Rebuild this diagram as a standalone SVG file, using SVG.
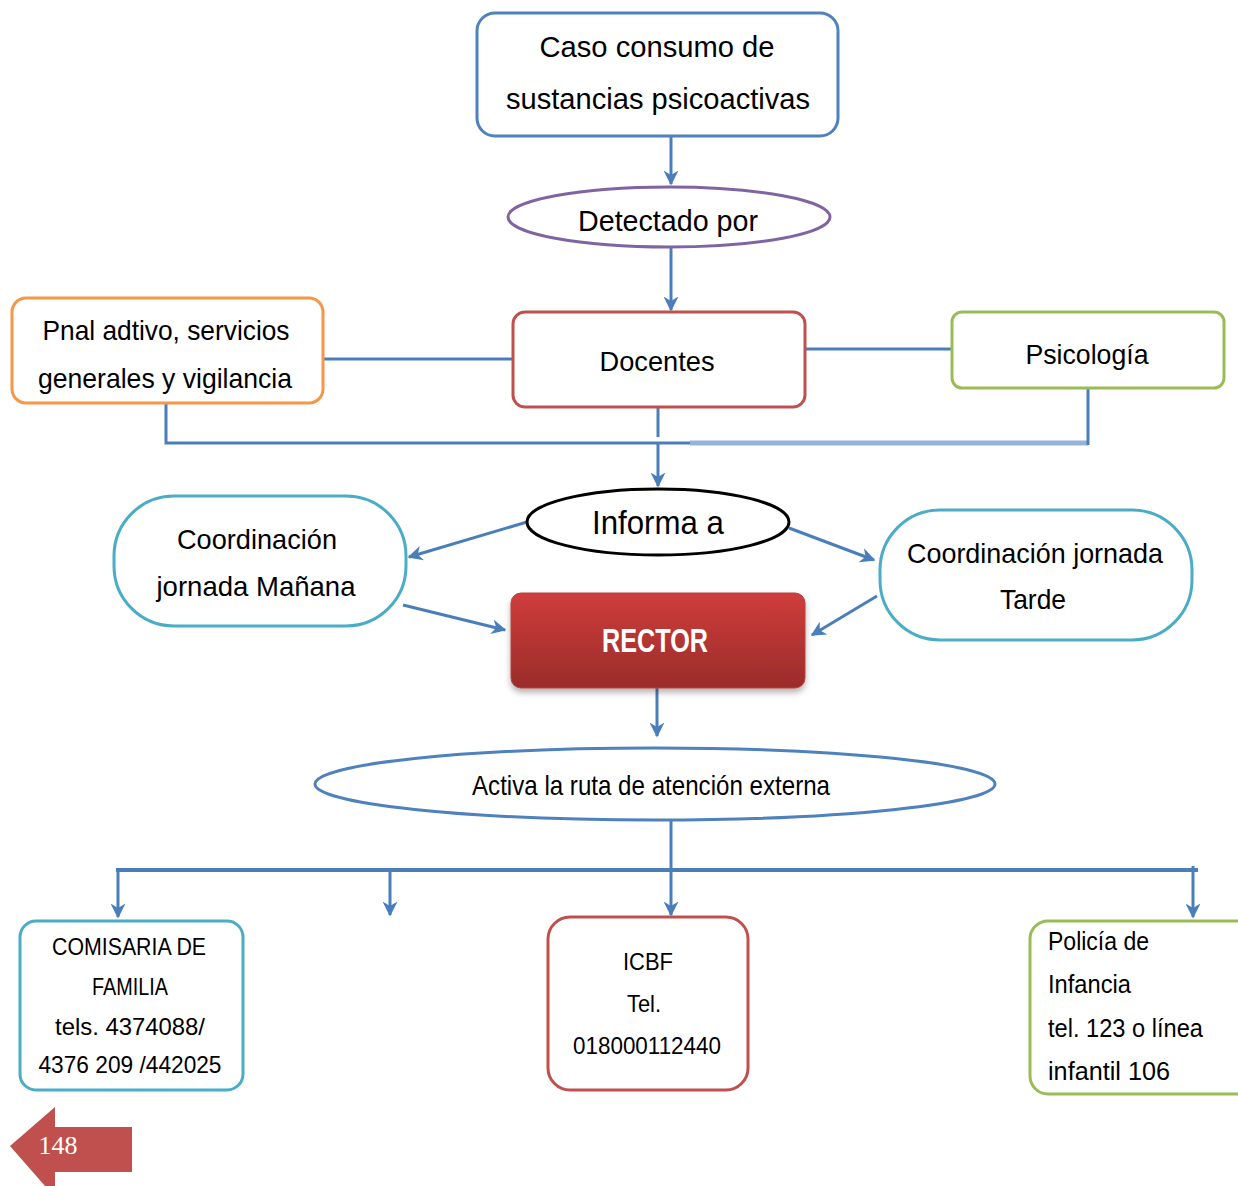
<svg xmlns="http://www.w3.org/2000/svg" width="1238" height="1186" viewBox="0 0 1238 1186">
<defs>
<style>
.t{font-family:"Liberation Sans","DejaVu Sans",sans-serif;fill:#000;text-anchor:middle}
.l{text-anchor:start}
.box{fill:#fff;stroke-width:3}
.c{fill:none;stroke:#4a7ebb;stroke-width:3}
</style>
<marker id="ar" viewBox="0 0 10 10" refX="9" refY="5" markerWidth="5" markerHeight="5" orient="auto" markerUnits="strokeWidth">
<path d="M0,0 L10,5 L0,10 L3,5 z" fill="#4a7ebb"/>
</marker>
<linearGradient id="rg" x1="0" y1="0" x2="0" y2="1">
<stop offset="0" stop-color="#cf3d3b"/>
<stop offset="1" stop-color="#9a2c2a"/>
</linearGradient>
<filter id="sh" x="-10%" y="-10%" width="120%" height="130%">
<feDropShadow dx="0" dy="4" stdDeviation="3" flood-color="#000" flood-opacity="0.3"/>
</filter>
</defs>
<rect width="1238" height="1186" fill="#fff"/>

<g id="connectors">
<line class="c" x1="671" y1="136" x2="671" y2="184" marker-end="url(#ar)"/>
<line class="c" x1="671" y1="247" x2="671" y2="310" marker-end="url(#ar)"/>
<line class="c" x1="323" y1="359" x2="513" y2="359"/>
<line class="c" x1="805" y1="349" x2="952" y2="349"/>
<polyline class="c" points="166,403 166,443 690,443"/>
<line x1="690" y1="443" x2="1088" y2="443" stroke="#95b3d7" stroke-width="5"/>
<line class="c" x1="1088" y1="388" x2="1088" y2="445"/>
<line class="c" x1="658" y1="407" x2="658" y2="437"/>
<line class="c" x1="658" y1="443" x2="658" y2="486" marker-end="url(#ar)"/>
<line class="c" x1="527" y1="522" x2="409" y2="557" marker-end="url(#ar)"/>
<line class="c" x1="789" y1="528" x2="874" y2="560" marker-end="url(#ar)"/>
<line class="c" x1="403" y1="605" x2="505" y2="630" marker-end="url(#ar)"/>
<line class="c" x1="877" y1="596" x2="812" y2="635" marker-end="url(#ar)"/>
<line class="c" x1="657" y1="688" x2="657" y2="736" marker-end="url(#ar)"/>
<line class="c" x1="671" y1="820" x2="671" y2="870"/>
<line x1="116" y1="870" x2="1198" y2="870" stroke="#4a7ebb" stroke-width="4"/>
<line class="c" x1="118" y1="870" x2="118" y2="917" marker-end="url(#ar)"/>
<line class="c" x1="390" y1="870" x2="390" y2="915" marker-end="url(#ar)"/>
<line class="c" x1="671" y1="870" x2="671" y2="915" marker-end="url(#ar)"/>
<line class="c" x1="1193" y1="866" x2="1193" y2="917" marker-end="url(#ar)"/>
</g>

<g id="caso">
<rect class="box" x="477" y="13" width="361" height="123" rx="18" stroke="#4f81bd"/>
<text class="t" x="657" y="57" font-size="30" textLength="235" lengthAdjust="spacingAndGlyphs">Caso consumo de</text>
<text class="t" x="658" y="109" font-size="30" textLength="304" lengthAdjust="spacingAndGlyphs">sustancias psicoactivas</text>
</g>

<g id="detectado">
<ellipse cx="669" cy="217" rx="161" ry="30" fill="#fff" stroke="#8064a2" stroke-width="3"/>
<text class="t" x="668" y="231" font-size="30" textLength="180" lengthAdjust="spacingAndGlyphs">Detectado por</text>
</g>

<g id="pnal">
<rect class="box" x="12" y="298" width="311" height="105" rx="14" stroke="#f79646"/>
<text class="t" x="166" y="340" font-size="28" textLength="247" lengthAdjust="spacingAndGlyphs">Pnal adtivo, servicios</text>
<text class="t" x="165" y="388" font-size="28" textLength="254" lengthAdjust="spacingAndGlyphs">generales y vigilancia</text>
</g>

<g id="docentes">
<rect class="box" x="513" y="312" width="292" height="95" rx="12" stroke="#c0504d"/>
<text class="t" x="657" y="371" font-size="28" textLength="115" lengthAdjust="spacingAndGlyphs">Docentes</text>
</g>

<g id="psicologia">
<rect class="box" x="952" y="312" width="272" height="76" rx="10" stroke="#9bbb59"/>
<text class="t" x="1087" y="364" font-size="28" textLength="123" lengthAdjust="spacingAndGlyphs">Psicología</text>
</g>

<g id="informa">
<ellipse cx="658" cy="522" rx="131" ry="33" fill="#fff" stroke="#000" stroke-width="3"/>
<text class="t" x="658" y="534" font-size="34" textLength="132" lengthAdjust="spacingAndGlyphs">Informa a</text>
</g>

<g id="manana">
<rect class="box" x="114" y="496" width="292" height="130" rx="60" stroke="#4bacc6"/>
<text class="t" x="257" y="549" font-size="28" textLength="160" lengthAdjust="spacingAndGlyphs">Coordinación</text>
<text class="t" x="256" y="596" font-size="28" textLength="199" lengthAdjust="spacingAndGlyphs">jornada Mañana</text>
</g>

<g id="tarde">
<rect class="box" x="880" y="510" width="312" height="130" rx="60" stroke="#4bacc6"/>
<text class="t" x="1035" y="563" font-size="28" textLength="256" lengthAdjust="spacingAndGlyphs">Coordinación jornada</text>
<text class="t" x="1033" y="609" font-size="28" textLength="66" lengthAdjust="spacingAndGlyphs">Tarde</text>
</g>

<g id="rector">
<rect x="511" y="593" width="294" height="95" rx="10" fill="url(#rg)" stroke="#b8403e" stroke-width="1" filter="url(#sh)"/>
<text class="t" x="655" y="652" font-size="34" font-weight="bold" fill="#fff" style="fill:#fff" textLength="106" lengthAdjust="spacingAndGlyphs">RECTOR</text>
</g>

<g id="activa">
<ellipse cx="655" cy="784" rx="340" ry="36" fill="#fff" stroke="#4f81bd" stroke-width="3"/>
<text class="t" x="651" y="795" font-size="28" textLength="358" lengthAdjust="spacingAndGlyphs">Activa la ruta de atención externa</text>
</g>

<g id="comisaria">
<rect class="box" x="20" y="921" width="223" height="169" rx="16" stroke="#4bacc6"/>
<text class="t" x="129" y="955" font-size="24" textLength="154" lengthAdjust="spacingAndGlyphs">COMISARIA  DE</text>
<text class="t" x="130" y="995" font-size="24" textLength="76" lengthAdjust="spacingAndGlyphs">FAMILIA</text>
<text class="t" x="130" y="1035" font-size="24" textLength="150" lengthAdjust="spacingAndGlyphs">tels. 4374088/</text>
<text class="t" x="130" y="1073" font-size="24" textLength="183" lengthAdjust="spacingAndGlyphs">4376 209 /442025</text>
</g>

<g id="icbf">
<rect class="box" x="548" y="917" width="200" height="173" rx="22" stroke="#c0504d"/>
<text class="t" x="648" y="970" font-size="24" textLength="50" lengthAdjust="spacingAndGlyphs">ICBF</text>
<text class="t" x="644" y="1012" font-size="24" textLength="34" lengthAdjust="spacingAndGlyphs">Tel.</text>
<text class="t" x="647" y="1054" font-size="24" textLength="148" lengthAdjust="spacingAndGlyphs">018000112440</text>
</g>

<g id="policia">
<rect class="box" x="1030" y="921" width="230" height="173" rx="18" stroke="#9bbb59"/>
<text class="t l" x="1048" y="950" font-size="26" textLength="101" lengthAdjust="spacingAndGlyphs">Policía de</text>
<text class="t l" x="1048" y="993" font-size="26" textLength="83" lengthAdjust="spacingAndGlyphs">Infancia</text>
<text class="t l" x="1048" y="1037" font-size="26" textLength="155" lengthAdjust="spacingAndGlyphs">tel. 123 o línea</text>
<text class="t l" x="1048" y="1080" font-size="26" textLength="122" lengthAdjust="spacingAndGlyphs">infantil 106</text>
</g>

<g id="page">
<polygon points="10,1146 55,1107 55,1127 132,1127 132,1172 55,1172 55,1186 45,1186" fill="#c0504d"/>
<text x="58" y="1154" font-family="Liberation Serif, serif" font-size="26" fill="#fff" text-anchor="middle">148</text>
</g>
</svg>
